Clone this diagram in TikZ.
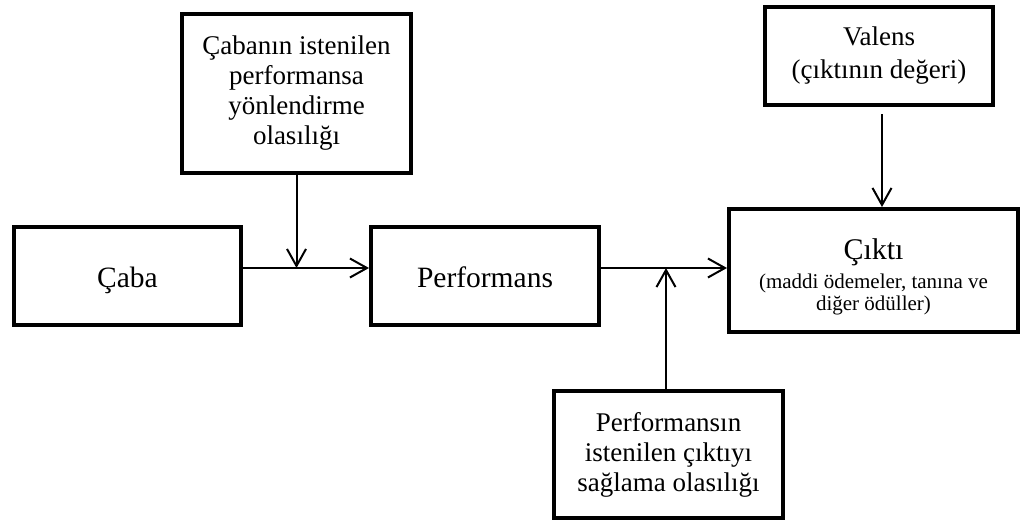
\documentclass[tikz,border=0pt]{standalone}
\usepackage{fontspec}
\setmainfont{Liberation Serif}
\usetikzlibrary{arrows.meta}

\tikzset{
  kutu/.style={draw,line width=4pt,align=center,inner sep=0pt,
    font=\fontsize{27}{30}\selectfont},
  tekkutu/.style={kutu,font=\fontsize{29.5}{32}\selectfont,text height=25pt,text depth=2pt},
  ok/.style={line width=2pt,-{Straight Barb[length=17pt,width=19pt,line width=2pt]}},
}
\newcommand{\altyazi}{\fontsize{21}{23}\selectfont}

\begin{document}
\begin{tikzpicture}[x=1pt,y=-1pt]
    \useasboundingbox (0,0) rectangle (1027,522);

    % ROW 1
    \node[kutu,minimum width=229pt,minimum height=159pt] (olas) at (296.5,93.5)
        {Çabanın istenilen\\performansa\\yönlendirme\\olasılığı};
    \node[kutu,minimum width=228pt,minimum height=98pt] (valens) at (879,56)
        {\rule{0pt}{14pt}Valens\\[3pt](çıktının değeri)};

    % ROW 2
    \node[tekkutu,minimum width=227pt,minimum height=98pt] (caba) at (127.5,276) {Çaba};
    \node[tekkutu,minimum width=228pt,minimum height=98pt] (perf) at (485,276) {Performans};
    \node[kutu,font=\fontsize{30}{30}\selectfont,minimum width=289pt,minimum height=123pt] (cikti) at (873.5,270.5)
        {\rule{0pt}{33pt}Çıktı\\[-1pt]{\altyazi (maddi ödemeler, tanına ve}\\[-8pt]
         {\altyazi diğer ödüller)}};

    % ROW 3
    \node[kutu,minimum width=229pt,minimum height=127pt] (sagla) at (668.5,454.5)
        {Performansın\\istenilen çıktıyı\\sağlama olasılığı};

    % junctions
    \coordinate (j1) at (296.5,268);
    \coordinate (j2) at (666,268);

    \draw[ok] (caba.east |- j1) -- (perf.west |- j1);
    \draw[ok] (olas.south) -- (j1);
    \draw[ok] (perf.east |- j2) -- (cikti.west |- j2);
    \draw[ok] (sagla.north -| j2) -- (j2);
    \draw[ok] ([yshift=-7pt,xshift=3pt]valens.south) -- ([xshift=3pt]valens.south |- cikti.north);
\end{tikzpicture}
\end{document}
